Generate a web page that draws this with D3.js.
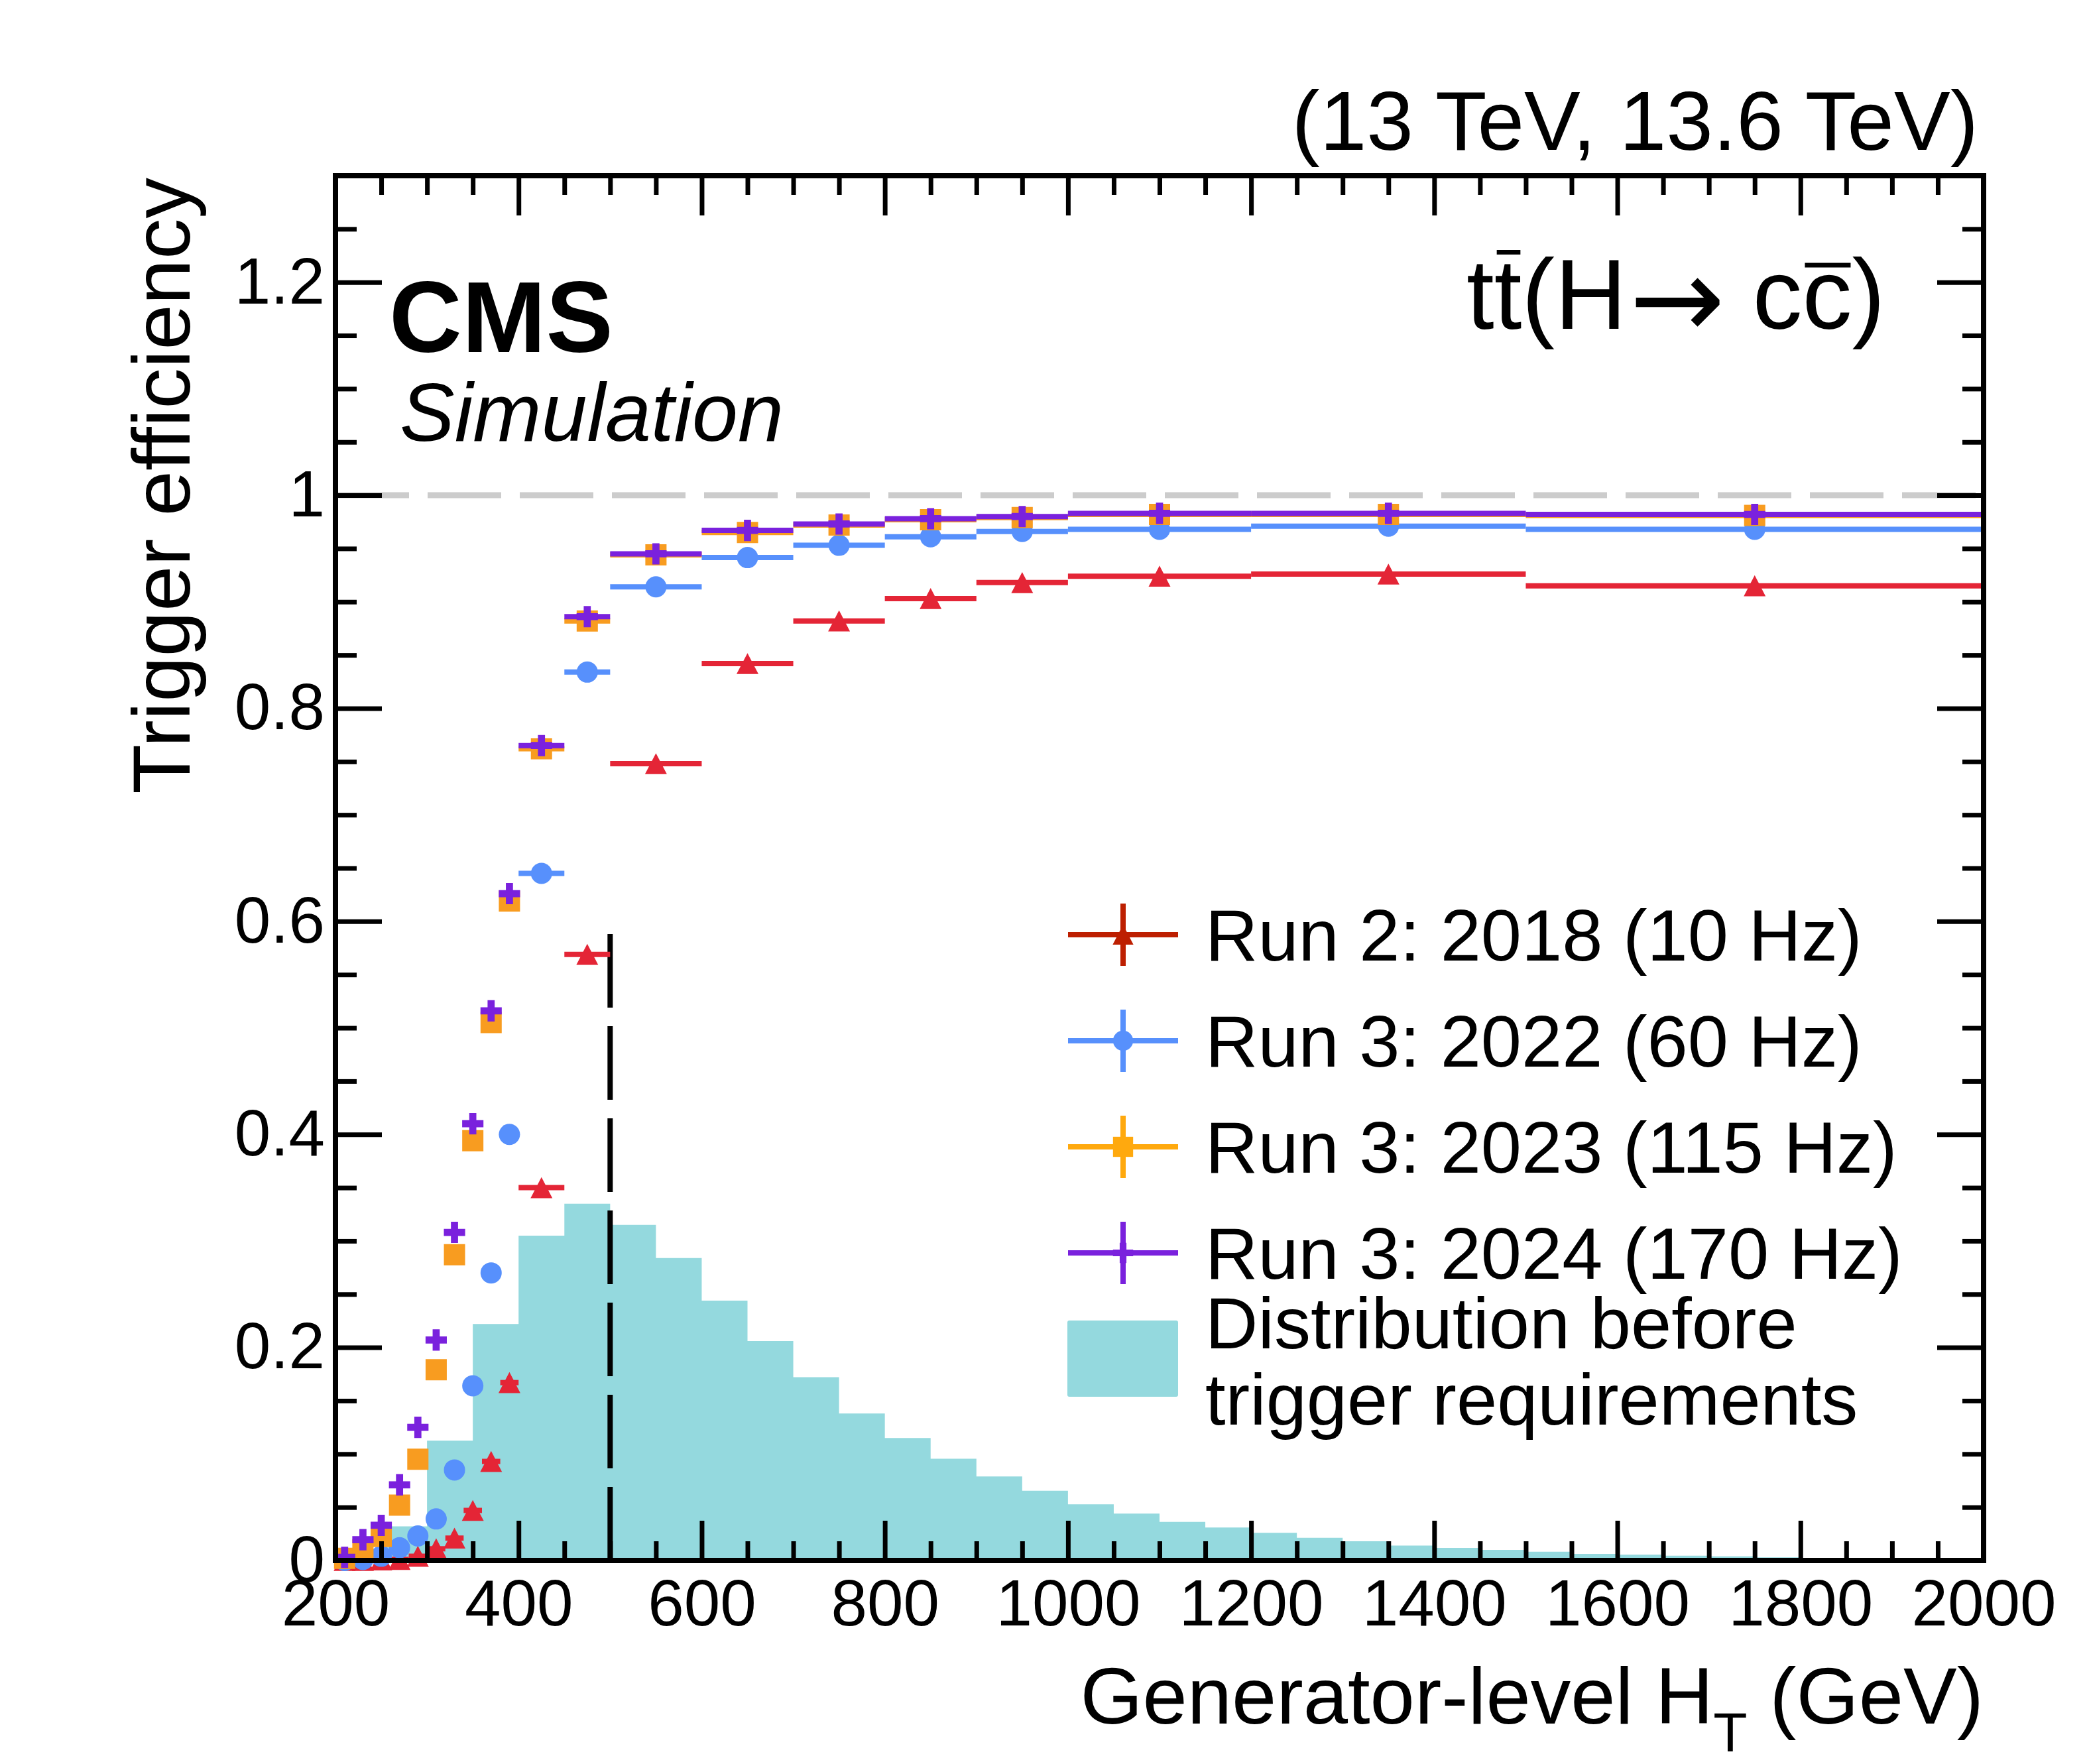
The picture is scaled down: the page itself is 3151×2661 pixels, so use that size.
<!DOCTYPE html>
<html>
<head>
<meta charset="utf-8">
<script src="https://cdn.jsdelivr.net/npm/d3@7"></script>
<style>
  html, body { margin: 0; padding: 0; background: #ffffff; }
  text { font-family: "Liberation Sans", Arial, Helvetica, sans-serif; }
</style>
</head>
<body>
<div id="chart"></div>
<script>
// efficiency bins (GeV)
const effBinEdges = [200, 220, 240, 260, 280, 300, 320, 340, 360, 380, 400, 450, 500, 600, 700, 800, 900, 1000, 1200, 1500, 2000];

const effRun2018 = [0.0, 0.0, 0.0005, 0.001, 0.004, 0.011, 0.021, 0.047, 0.093, 0.167, 0.350, 0.569, 0.748, 0.842, 0.882, 0.903, 0.918, 0.924, 0.926, 0.915];
const effRun2022 = [0.0, 0.001, 0.004, 0.012, 0.023, 0.039, 0.085, 0.164, 0.270, 0.400, 0.645, 0.834, 0.914, 0.9415, 0.953, 0.961, 0.966, 0.968, 0.971, 0.968];
const effRun2023 = [0.002, 0.010, 0.0225, 0.052, 0.095, 0.179, 0.287, 0.394, 0.505, 0.619, 0.762, 0.882, 0.944, 0.965, 0.972, 0.977, 0.979, 0.982, 0.982, 0.981];
const effRun2024 = [0.003, 0.0195, 0.033, 0.071, 0.125, 0.207, 0.308, 0.410, 0.516, 0.626, 0.765, 0.886, 0.945, 0.967, 0.973, 0.978, 0.980, 0.983, 0.983, 0.982];

// generator-level HT distribution before trigger (50 GeV bins)
const histBinEdges = [200, 250, 300, 350, 400, 450, 500, 550, 600, 650, 700, 750, 800, 850, 900, 950, 1000, 1050, 1100,
    1150, 1200, 1250, 1300, 1350, 1400, 1450, 1500, 1550, 1600, 1650, 1700, 1750, 1800, 1850, 1900, 1950, 2000];
const histValues = [0.0, 0.032, 0.1125, 0.222, 0.305, 0.335, 0.315, 0.284, 0.244, 0.206, 0.172, 0.138, 0.115, 0.0956,
    0.0788, 0.0655, 0.0527, 0.044, 0.0363, 0.031, 0.026, 0.0213, 0.018, 0.014, 0.0118, 0.010, 0.0082, 0.0063, 0.0055,
    0.0045, 0.0039, 0.003, 0.0025, 0.0021, 0.0021, 0.0018];

const xMajorTicks = [200, 400, 600, 800, 1000, 1200, 1400, 1600, 1800, 2000];
const xTickLabels = ["200", "400", "600", "800", "1000", "1200", "1400", "1600", "1800", "2000"];
const yMajorTicks = [0, 0.2, 0.4, 0.6, 0.8, 1, 1.2];
const yTickLabels = ["0", "0.2", "0.4", "0.6", "0.8", "1", "1.2"];

const legendLabels = ["Run 2: 2018 (10 Hz)", "Run 3: 2022 (60 Hz)", "Run 3: 2023 (115 Hz)", "Run 3: 2024 (170 Hz)"];
const histLegendLines = ["Distribution before", "trigger requirements"];

const refLineValue = 1;
const htCut = 500;
const htCutTop = 0.59;

const colors = {
    red: '#e42536',
    blue: '#5790fc',
    orange: '#f89c20',
    purple: '#7a21dd',
    redLegend: '#bd1f01',
    orangeLegend: '#ffa90e',
    hist: '#94d9de',
    refLine: '#cccccc',
}

const W = 3151, H = 2661;
const margin = {top: 265, right: 159, bottom: 307, left: 506};
const font = '"Liberation Sans", Arial, Helvetica, sans-serif';

const svg = d3.select("#chart").append("svg")
    .attr("width", W)
    .attr("height", H)
    .attr("viewBox", `0 0 ${W} ${H}`);

svg.append("rect").attr("width", W).attr("height", H).attr("fill", "#fff");

const x = d3.scaleLinear().domain([200, 2000]).range([margin.left, W - margin.right]);
const y = d3.scaleLinear().domain([0, 1.3]).range([H - margin.bottom, margin.top]);

// custom triangle (ROOT style 22, centred on its box)
const triangle = {
    draw(ctx, size) {
        const s = Math.sqrt(size);
        ctx.moveTo(0, -s * 0.48);
        ctx.lineTo(s / 2, s * 0.48);
        ctx.lineTo(-s / 2, s * 0.48);
        ctx.closePath();
    }
};

const series = [
    {values: effRun2018, color: colors.red, legendColor: colors.redLegend, type: triangle, size: 33 * 33},
    {values: effRun2022, color: colors.blue, legendColor: colors.blue, type: d3.symbolCircle, size: Math.PI * 16 * 16},
    {values: effRun2023, color: colors.orange, legendColor: colors.orangeLegend, type: d3.symbolSquare, size: 32 * 32},
    {values: effRun2024, color: colors.purple, legendColor: colors.purple, type: d3.symbolCross, size: 5 * 10.7 * 10.7},
];

// histogram as one step path
const histPts = [[histBinEdges[0], 0]];
histValues.forEach((v, i) => {
    histPts.push([histBinEdges[i], v]);
    histPts.push([histBinEdges[i + 1], v]);
});
histPts.push([histBinEdges[histBinEdges.length - 1], 0]);

svg.append("path")
    .attr("d", d3.line().x(d => x(d[0])).y(d => y(d[1]))(histPts) + "Z")
    .attr("fill", colors.hist);

// reference line at 1
svg.append("line")
    .attr("x1", x(200)).attr("x2", x(2000))
    .attr("y1", y(refLineValue)).attr("y2", y(refLineValue))
    .attr("stroke", colors.refLine)
    .attr("stroke-width", 9)
    .attr("stroke-dasharray", "111,28");

// offline HT threshold
svg.append("line")
    .attr("x1", x(htCut)).attr("x2", x(htCut))
    .attr("y1", y(0)).attr("y2", y(htCutTop))
    .attr("stroke", "#000")
    .attr("stroke-width", 8)
    .attr("stroke-dasharray", "111,28");

// efficiency points
series.forEach(s => {
    const pts = s.values.map((v, i) => ({lo: effBinEdges[i], hi: effBinEdges[i + 1], v: v}));
    const g = svg.append("g");
    g.selectAll("line")
        .data(pts)
        .enter().append("line")
        .attr("x1", d => x(d.lo))
        .attr("x2", d => x(d.hi))
        .attr("y1", d => y(d.v))
        .attr("y2", d => y(d.v))
        .attr("stroke", s.color)
        .attr("stroke-width", 8);
    g.selectAll("path")
        .data(pts)
        .enter().append("path")
        .attr("d", d3.symbol().type(s.type).size(s.size))
        .attr("transform", d => "translate(" + x((d.lo + d.hi) / 2) + "," + y(d.v) + ")")
        .attr("fill", s.color);
});

// axes
const xMinorTicks = d3.range(200, 2001, 50).filter(d => d % 200 !== 0);
const yMinorTicks = d3.range(26).map(i => i / 20).filter((d, i) => i % 4 !== 0);

function styleAxis(g, fontSize) {
    g.select(".domain").remove();
    g.selectAll(".tick line").attr("stroke", "#000").attr("stroke-width", 7);
    g.attr("font-size", fontSize).attr("font-family", font);
    g.selectAll(".tick text").attr("fill", "#000");
}

const bottomY = y(0), topY = y(1.3), leftX = x(200), rightX = x(2000);

svg.append("g").attr("transform", `translate(0,${bottomY})`)
    .call(d3.axisBottom(x).tickValues(xMajorTicks).tickSize(-60).tickPadding(28).tickFormat((d, i) => xTickLabels[i]))
    .call(g => styleAxis(g, 98));
svg.append("g").attr("transform", `translate(0,${bottomY})`)
    .call(d3.axisBottom(x).tickValues(xMinorTicks).tickSize(-29).tickFormat(""))
    .call(g => styleAxis(g, 98));
svg.append("g").attr("transform", `translate(0,${topY})`)
    .call(d3.axisTop(x).tickValues(xMajorTicks).tickSize(-60).tickFormat(""))
    .call(g => styleAxis(g, 98));
svg.append("g").attr("transform", `translate(0,${topY})`)
    .call(d3.axisTop(x).tickValues(xMinorTicks).tickSize(-29).tickFormat(""))
    .call(g => styleAxis(g, 98));

svg.append("g").attr("transform", `translate(${leftX},0)`)
    .call(d3.axisLeft(y).tickValues(yMajorTicks).tickSize(-70).tickPadding(16).tickFormat((d, i) => yTickLabels[i]))
    .call(g => styleAxis(g, 98));
svg.append("g").attr("transform", `translate(${leftX},0)`)
    .call(d3.axisLeft(y).tickValues(yMinorTicks).tickSize(-32).tickFormat(""))
    .call(g => styleAxis(g, 98));
svg.append("g").attr("transform", `translate(${rightX},0)`)
    .call(d3.axisRight(y).tickValues(yMajorTicks).tickSize(-70).tickFormat(""))
    .call(g => styleAxis(g, 98));
svg.append("g").attr("transform", `translate(${rightX},0)`)
    .call(d3.axisRight(y).tickValues(yMinorTicks).tickSize(-32).tickFormat(""))
    .call(g => styleAxis(g, 98));

// frame
svg.append("rect")
    .attr("x", leftX).attr("y", topY)
    .attr("width", rightX - leftX).attr("height", bottomY - topY)
    .attr("fill", "none").attr("stroke", "#000").attr("stroke-width", 8);

// axis titles
svg.append("text")
    .attr("transform", `translate(286,${topY + 3}) rotate(-90)`)
    .attr("text-anchor", "end")
    .attr("font-size", 123)
    .text("Trigger efficiency");

const xTitle = svg.append("text")
    .attr("x", rightX).attr("y", 2600)
    .attr("text-anchor", "end")
    .attr("font-size", 121);
xTitle.append("tspan").text("Generator-level H");
xTitle.append("tspan").attr("font-size", 84).attr("dy", 42).text("T");
xTitle.append("tspan").attr("dy", -42).text(" (GeV)");

// labels
svg.append("text")
    .attr("x", 587).attr("y", 531)
    .attr("font-size", 152).attr("font-weight", "bold")
    .text("CMS");
svg.append("text")
    .attr("x", 603).attr("y", 665)
    .attr("font-size", 124).attr("font-style", "italic")
    .text("Simulation");
svg.append("text")
    .attr("x", 2984).attr("y", 226)
    .attr("text-anchor", "end")
    .attr("font-size", 127)
    .text("(13 TeV, 13.6 TeV)");

const procY = 496;
const proc = svg.append("text")
    .attr("x", 2212).attr("y", procY)
    .attr("font-size", 150);
proc.append("tspan").text("tt(H");
proc.append("tspan")
    .attr("font-family", '"DejaVu Sans", sans-serif')
    .attr("font-size", 172)
    .attr("dx", 4)
    .attr("dy", 14)
    .text("\u2192");
proc.append("tspan").attr("dy", -14).text(" cc)");
[[1, 0.77], [7, 0.64]].forEach(([idx, h]) => {
    const box = proc.node().getExtentOfChar(idx);
    svg.append("line")
        .attr("x1", box.x + 4).attr("x2", box.x + box.width - 2)
        .attr("y1", procY - h * 150).attr("y2", procY - h * 150)
        .attr("stroke", "#000").attr("stroke-width", 7);
});

// legend
const legend = svg.append("g");
const legendX = 1694, legendY0 = 1410, legendStep = 160;
series.forEach((s, i) => {
    const ly = legendY0 + i * legendStep;
    legend.append("line")
        .attr("x1", legendX - 83).attr("x2", legendX + 83)
        .attr("y1", ly).attr("y2", ly)
        .attr("stroke", s.legendColor).attr("stroke-width", 8);
    legend.append("line")
        .attr("x1", legendX).attr("x2", legendX)
        .attr("y1", ly - 47).attr("y2", ly + 47)
        .attr("stroke", s.legendColor).attr("stroke-width", 8);
    legend.append("path")
        .attr("d", d3.symbol().type(s.type).size(s.size * 0.9))
        .attr("transform", `translate(${legendX},${ly})`)
        .attr("fill", s.legendColor);
    legend.append("text")
        .attr("x", 1818).attr("y", ly + 39)
        .attr("font-size", 110)
        .text(legendLabels[i]);
});
legend.append("rect")
    .attr("x", 1610).attr("y", 1992)
    .attr("width", 167).attr("height", 115)
    .attr("rx", 3)
    .attr("fill", colors.hist);
histLegendLines.forEach((t, i) => {
    legend.append("text")
        .attr("x", 1818).attr("y", 2034 + i * 115)
        .attr("font-size", 110)
        .text(t);
});
</script>
</body>
</html>
